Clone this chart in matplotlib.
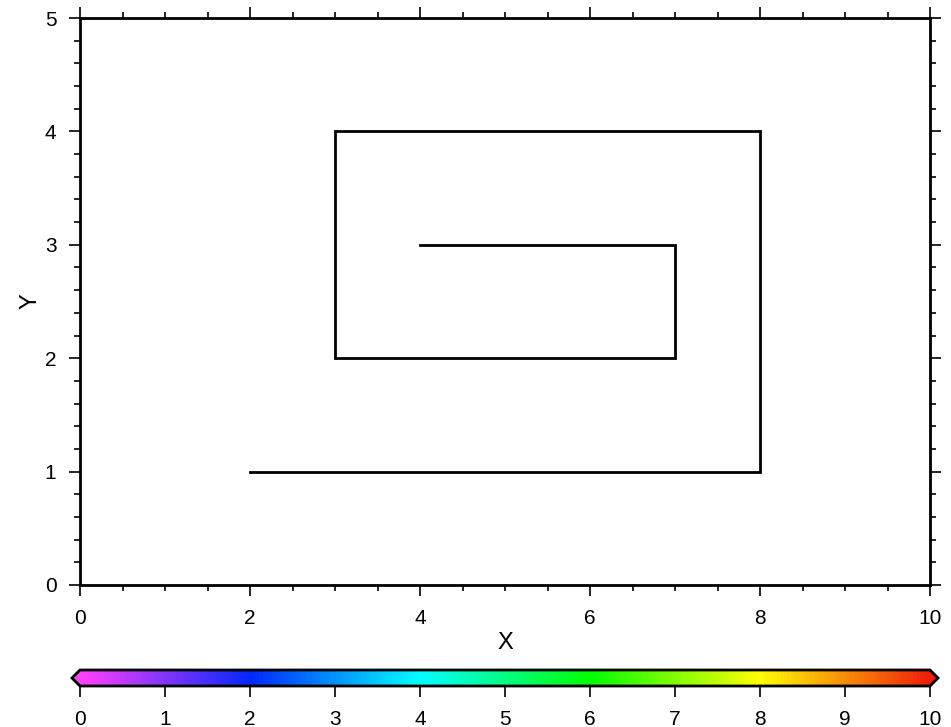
import numpy as np
import matplotlib
matplotlib.use("Agg")
import matplotlib.pyplot as plt
from matplotlib.colors import LinearSegmentedColormap, Normalize
from matplotlib.ticker import MultipleLocator
import matplotlib.cm as cm

plt.rcParams['font.family'] = ['Liberation Sans', 'DejaVu Sans']

# spiral path vertices
path_x = [2, 8, 8, 3, 3, 7, 7, 4]
path_y = [1, 1, 4, 4, 2, 2, 3, 3]

cbar_ticks = [0, 1, 2, 3, 4, 5, 6, 7, 8, 9, 10]
x_ticks = [0, 2, 4, 6, 8, 10]
y_ticks = [0, 1, 2, 3, 4, 5]

# GMT-style rainbow
rainbow = LinearSegmentedColormap.from_list(
    "gmt_rainbow",
    [(0.0, "#ff40ff"), (0.2, "#0028ff"), (0.4, "#00ffff"),
     (0.6, "#00ff00"), (0.8, "#ffff00"), (1.0, "#f01e0a")])

W, H = 951, 727
fig = plt.figure(figsize=(W / 100, H / 100), dpi=100)
ax = fig.add_axes([80 / W, 1 - 585 / H, 850 / W, 567 / H])

ax.plot(path_x, path_y, color='black', linewidth=2.0, solid_joinstyle='miter')
ax.set_xlim(0, 10)
ax.set_ylim(0, 5)
ax.set_xticks(x_ticks)
ax.set_yticks(y_ticks)
ax.xaxis.set_minor_locator(MultipleLocator(0.5))
ax.yaxis.set_minor_locator(MultipleLocator(0.2))
ax.tick_params(which='both', direction='out', top=True, right=True,
               labeltop=False, labelright=False, width=1.2, color='black')
ax.tick_params(which='major', length=8, labelsize=15, pad=9)
ax.tick_params(which='minor', length=4)
for sp in ax.spines.values():
    sp.set_linewidth(2)
ax.set_xlabel('X', fontsize=17, labelpad=3)
ax.set_ylabel('Y', fontsize=17, labelpad=2)

# colorbar
ext = 8 / 850
cax = fig.add_axes([72 / W, 1 - 686 / H, 866 / W, 16 / H])
sm = cm.ScalarMappable(norm=Normalize(0, 10), cmap=rainbow)
cb = fig.colorbar(sm, cax=cax, orientation='horizontal', extend='both',
                  extendfrac=ext, ticks=cbar_ticks)
cb.outline.set_linewidth(2)
cb.ax.tick_params(direction='out', length=8, width=1.2, labelsize=15, pad=9)

fig.savefig("out.png", dpi=100)
